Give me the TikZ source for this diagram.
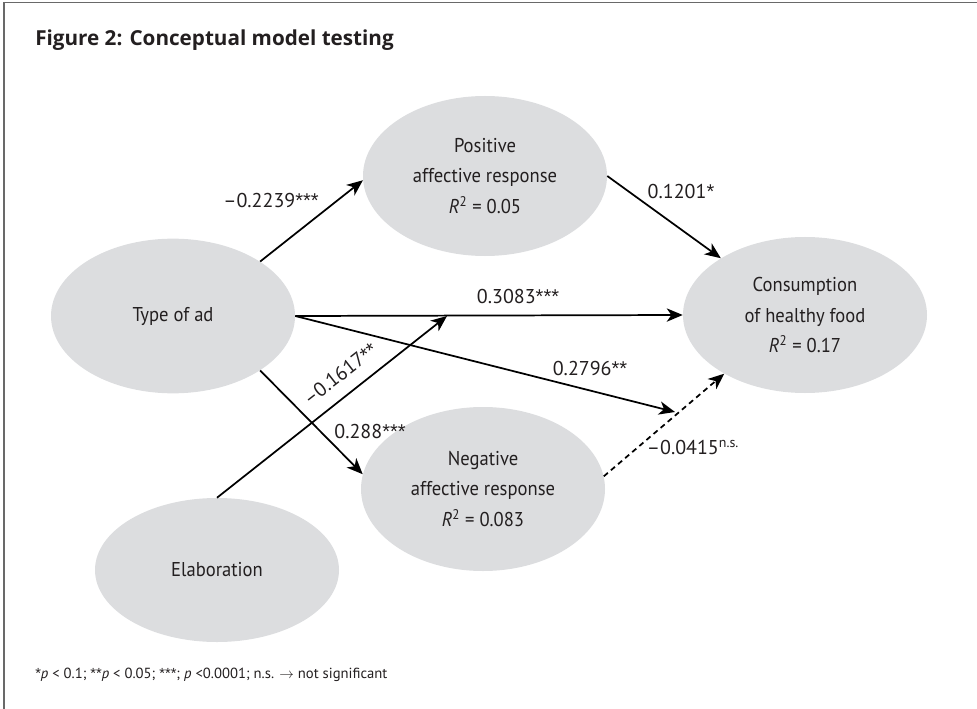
\documentclass[tikz,border=0pt]{standalone}
\usepackage{fontspec}
\setmainfont{PT Sans}
\newfontfamily\ovalfont{PT Sans}[FakeStretch=0.93]
\newfontfamily\titlefont{Open Sans}
\newfontfamily\starfont{Liberation Sans}
\usepackage{xcolor}
\usetikzlibrary{arrows.meta,positioning,shapes.geometric}

\definecolor{ovalgray}{RGB}{220,221,223}
\definecolor{inkgray}{RGB}{35,31,32}
\definecolor{framegray}{RGB}{105,105,105}

\newcommand{\sig}[1]{{\starfont#1}}

\begin{document}
\begin{tikzpicture}[x=0.75pt, y=-0.75pt,
  latent/.style={ellipse, fill=ovalgray, inner sep=0pt, minimum width=183pt, minimum height=116pt, align=center, text=inkgray, font=\ovalfont\fontsize{15}{23}\selectfont},
  path/.style={-{Stealth[length=12pt,width=10pt,inset=3.5pt]}, line width=1.3pt},
  coef/.style={text=inkgray, inner sep=0pt, font=\fontsize{15}{17}\selectfont}
]
\useasboundingbox (0,0) rectangle (977,709);
\draw[framegray, line width=1.1pt] (4,709) -- (4,2.5) -- (977,2.5);

\node[anchor=base west, inner sep=0pt, text=inkgray, font=\titlefont\bfseries\fontsize{15.5}{18}\selectfont] (title) at (35,46) {Figure 2: Conceptual model testing};

\node[latent] (type) at (173,316) {Type of ad};
\node[latent, minimum height=120pt] (pos) at (485,176) {Positive\\affective response\\\textit{R}\textsuperscript{2} = 0.05};
\node[latent, minimum height=117pt] (cons) at (805,315) {Consumption\\of healthy food\\\textit{R}\textsuperscript{2} = 0.17};
\node[latent, minimum height=123pt] (neg) at (483,489) {Negative\\affective response\\\textit{R}\textsuperscript{2} = 0.083};
\node[latent, minimum height=108pt] (elab) at (217,570) {Elaboration};

\coordinate (m1) at (447,316);
\coordinate (m2) at (675,412);

\draw[path] (type.32) -- (pos.182);
\draw[path] (pos.east) -- (cons.146);
\draw[path] (type.east) -- (cons.west);
\draw[path] (type.east) -- (m2);
\draw[path] (elab.north) -- (m1);
\draw[path] (type.-32) -- (neg.173);
\draw[path, dash pattern=on 4pt off 3pt] (neg.6) -- (cons.216);

\node[coef] (c1) at (271,201) {\textendash0.2239\sig{***}};
\node[coef] (c2) at (681,192) {0.1201\sig{*}};
\node[coef] (c3) at (518,296) {0.3083\sig{***}};
\node[coef] (c4) at (590,368) {0.2796\sig{**}};
\node[coef, rotate=38] (c5) at (340,374) {\textendash0.1617\sig{**}};
\node[coef] (c6) at (370,431) {0.288\sig{***}};
\node[coef] (c7) at (693,447) {\textendash0.0415\textsuperscript{n.s.}};

\node[anchor=base west, inner sep=0pt, text=inkgray, font=\fontsize{11}{13}\selectfont] (note) at (35,678) {\sig{*}\textit{p} < 0.1; \sig{**}\textit{p} < 0.05; \sig{***}; \textit{p} <0.0001; n.s. $\rightarrow$ not significant};
\end{tikzpicture}
\end{document}
